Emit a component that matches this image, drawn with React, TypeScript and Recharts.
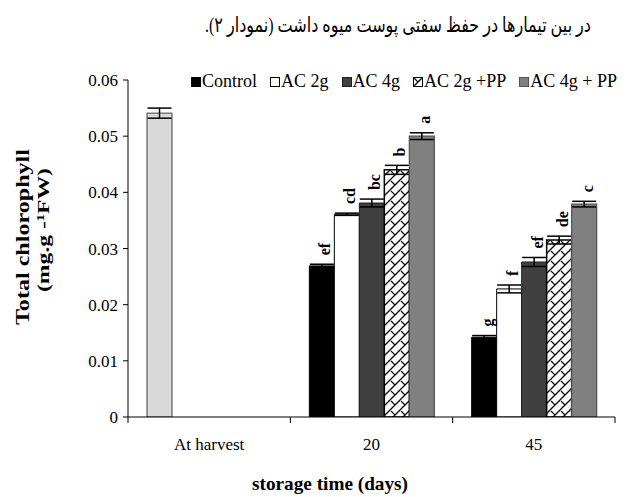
import React from 'react';
import { BarChart, Bar, XAxis, YAxis, ErrorBar, LabelList, Cell } from 'recharts';

const categories = ['At harvest', '20', '45'];
const seriesNames = ['Control', 'AC 2g', 'AC 4g', 'AC 2g +PP', 'AC 4g + PP'];
const controlValues = [0.0541, 0.0269, 0.0142];
const ac2gValues = [null, 0.0361, 0.0228];
const ac4gValues = [null, 0.0381, 0.0276];
const ac2gPPValues = [null, 0.044, 0.0315];
const ac4gPPValues = [null, 0.05, 0.0379];
const controlErr = [0.0009, 0.0003, 0.0003];
const ac2gErr = [null, 0.0002, 0.0007];
const ac4gErr = [null, 0.0007, 0.0008];
const ac2gPPErr = [null, 0.0008, 0.0007];
const ac4gPPErr = [null, 0.0006, 0.0005];
const controlLetters = ['', 'ef', 'g'];
const ac2gLetters = ['', 'cd', 'f'];
const ac4gLetters = ['', 'bc', 'ef'];
const ac2gPPLetters = ['', 'b', 'de'];
const ac4gPPLetters = ['', 'a', 'c'];
const yTicks = [0, 0.01, 0.02, 0.03, 0.04, 0.05, 0.06];
const yTitle1 = 'Total chlorophyll';
const yTitle2 = '(mg.g -\u00B9FW)';
const xTitle = 'storage time (days)';
const topText = 'در بین تیمارها در حفظ سفتی پوست میوه داشت (نمودار ۲).';

const W = 633;
const H = 497;
const M = { top: 80, right: 18, bottom: 40, left: 0 };
const Y_AXIS_W = 128;
const X_AXIS_H = 40;
const Y_MAX = 0.06;
const PLOT_H = H - M.top - M.bottom - X_AXIS_H;
const PLOT_W = W - M.left - M.right - Y_AXIS_W;
const BAND = PLOT_W / categories.length;
const SERIF = "'Liberation Serif', 'Times New Roman', serif";

const data = categories.map((c, i) => ({
  cat: c,
  control: controlValues[i],
  ac2g: ac2gValues[i],
  ac4g: ac4gValues[i],
  ac2gPP: ac2gPPValues[i],
  ac4gPP: ac4gPPValues[i],
  controlErr: controlErr[i],
  ac2gErr: ac2gErr[i],
  ac4gErr: ac4gErr[i],
  ac2gPPErr: ac2gPPErr[i],
  ac4gPPErr: ac4gPPErr[i],
}));

const makeLetter =
  (values: (number | null)[], letters: string[], errs: (number | null)[]) => (props: any) => {
    const { x, y, width, value } = props;
    const idx = values.indexOf(Number(value));
    if (idx < 0) return null;
    const t = letters[idx];
    if (!t || y == null || isNaN(Number(y))) return null;
    const e = errs[idx] ?? 0;
    const top = Number(y) - (e / Y_MAX) * PLOT_H - 9;
    const cx = Number(x) + Number(width) / 2 + 3;
    return (
      <text
        x={cx}
        y={top}
        transform={`rotate(-90 ${cx} ${top})`}
        textAnchor="start"
        dominantBaseline="central"
        fontFamily={SERIF}
        fontWeight="bold"
        fontSize={16}
        fill="#000"
      >
        {t}
      </text>
    );
  };

const XTick = (props: any) => {
  const { x, y, payload, index } = props;
  const off = payload && payload.offset ? payload.offset : BAND / 2;
  return (
    <g>
      <line x1={x - off} x2={x - off} y1={y} y2={y + 6} stroke="#000" strokeWidth={1} />
      {index === categories.length - 1 && (
        <line x1={x + off} x2={x + off} y1={y} y2={y + 6} stroke="#000" strokeWidth={1} />
      )}
      <text x={x} y={y + 33} textAnchor="middle" fontFamily={SERIF} fontSize={17} fill="#000">
        {payload.value}
      </text>
    </g>
  );
};

const legendFills = ['#000000', '#ffffff', '#404040', 'url(#weave)', '#808080'];
const legendStrokes = ['#000000', '#000000', '#202020', '#000000', '#505050'];

export default function App() {
  return (
    <div style={{ position: 'absolute', left: 0, top: 0, width: W, height: H, background: '#fff' }}>
      <svg width={0} height={0} style={{ position: 'absolute' }}>
        <defs>
          <pattern id="weave" patternUnits="userSpaceOnUse" width={10} height={10}>
            <rect width={10} height={10} fill="#fff" />
            <path d="M0,10 L10,0 M-2,2 L2,-2 M8,12 L12,8" stroke="#000" strokeWidth={1.3} />
            <path d="M1,1 L5,5" stroke="#000" strokeWidth={1.1} />
          </pattern>
        </defs>
      </svg>
      <BarChart width={W} height={H} data={data} margin={M} barSize={25} barGap={0}>
        <YAxis
          width={Y_AXIS_W}
          domain={[0, Y_MAX]}
          ticks={yTicks}
          tickSize={5}
          tickMargin={5}
          axisLine={{ stroke: '#000' }}
          tickLine={{ stroke: '#000' }}
          tick={{ fontFamily: SERIF, fontSize: 17, fill: '#000' }}
          tickFormatter={(v: number) => (v === 0 ? '0' : v.toFixed(2))}
          allowDataOverflow
        />
        <XAxis
          dataKey="cat"
          height={X_AXIS_H}
          axisLine={{ stroke: '#000' }}
          tickLine={false}
          tickSize={0}
          tickMargin={0}
          tick={<XTick />}
          interval={0}
        />
        <Bar dataKey="control" fill="#000" stroke="#000" strokeWidth={1} isAnimationActive={false}>
          {categories.map((c, i) => (
            <Cell key={c} fill={i === 0 ? '#d9d9d9' : '#000'} stroke={i === 0 ? '#404040' : '#000'} />
          ))}
          <ErrorBar dataKey="controlErr" width={12} stroke="#000" strokeWidth={1.5} />
          <LabelList dataKey="control" content={makeLetter(controlValues, controlLetters, controlErr)} />
        </Bar>
        <Bar dataKey="ac2g" fill="#fff" stroke="#000" strokeWidth={1} isAnimationActive={false}>
          <ErrorBar dataKey="ac2gErr" width={12} stroke="#000" strokeWidth={1.5} />
          <LabelList dataKey="ac2g" content={makeLetter(ac2gValues, ac2gLetters, ac2gErr)} />
        </Bar>
        <Bar dataKey="ac4g" fill="#404040" stroke="#202020" strokeWidth={1} isAnimationActive={false}>
          <ErrorBar dataKey="ac4gErr" width={12} stroke="#000" strokeWidth={1.5} />
          <LabelList dataKey="ac4g" content={makeLetter(ac4gValues, ac4gLetters, ac4gErr)} />
        </Bar>
        <Bar dataKey="ac2gPP" fill="url(#weave)" stroke="#000" strokeWidth={1.5} isAnimationActive={false}>
          <ErrorBar dataKey="ac2gPPErr" width={12} stroke="#000" strokeWidth={1.5} />
          <LabelList dataKey="ac2gPP" content={makeLetter(ac2gPPValues, ac2gPPLetters, ac2gPPErr)} />
        </Bar>
        <Bar dataKey="ac4gPP" fill="#808080" stroke="#505050" strokeWidth={1.2} isAnimationActive={false}>
          <ErrorBar dataKey="ac4gPPErr" width={12} stroke="#000" strokeWidth={1.5} />
          <LabelList dataKey="ac4gPP" content={makeLetter(ac4gPPValues, ac4gPPLetters, ac4gPPErr)} />
        </Bar>
      </BarChart>
      <div
        style={{
          position: 'absolute',
          left: 191,
          top: 71,
          display: 'flex',
          alignItems: 'center',
          fontFamily: SERIF,
          fontSize: 18,
          color: '#000',
          whiteSpace: 'nowrap',
        }}
      >
        {seriesNames.map((n, i) => (
          <div key={n} style={{ display: 'flex', alignItems: 'center', marginRight: 13 }}>
            <svg width={10} height={10} style={{ marginRight: 1 }}>
              <rect x={0.5} y={0.5} width={9} height={9} fill={legendFills[i]} stroke={legendStrokes[i]} strokeWidth={1} />
            </svg>
            <span>{n}</span>
          </div>
        ))}
      </div>
      <svg width={W} height={H} style={{ position: 'absolute', left: 0, top: 0, pointerEvents: 'none' }}>
        <text
          x={398}
          y={25}
          textAnchor="middle"
          dominantBaseline="central"
          direction="rtl"
          fontFamily="'Liberation Serif', 'DejaVu Sans', serif"
          fontSize={21}
          textLength={386}
          lengthAdjust="spacingAndGlyphs"
          fill="#000"
        >
          {topText}
        </text>
        <text
          x={23}
          y={237}
          transform="rotate(-90 23 237)"
          textAnchor="middle"
          dominantBaseline="central"
          fontFamily={SERIF}
          fontWeight="bold"
          fontSize={18}
          textLength={176}
          lengthAdjust="spacingAndGlyphs"
          fill="#000"
        >
          {yTitle1}
        </text>
        <text
          x={43}
          y={230}
          transform="rotate(-90 43 230)"
          textAnchor="middle"
          dominantBaseline="central"
          fontFamily={SERIF}
          fontWeight="bold"
          fontSize={17}
          textLength={124}
          lengthAdjust="spacingAndGlyphs"
          fill="#000"
        >
          {yTitle2}
        </text>
        <text
          x={330}
          y={483}
          textAnchor="middle"
          dominantBaseline="central"
          fontFamily={SERIF}
          fontWeight="bold"
          fontSize={19}
          textLength={156}
          lengthAdjust="spacingAndGlyphs"
          fill="#000"
        >
          {xTitle}
        </text>
      </svg>
    </div>
  );
}
